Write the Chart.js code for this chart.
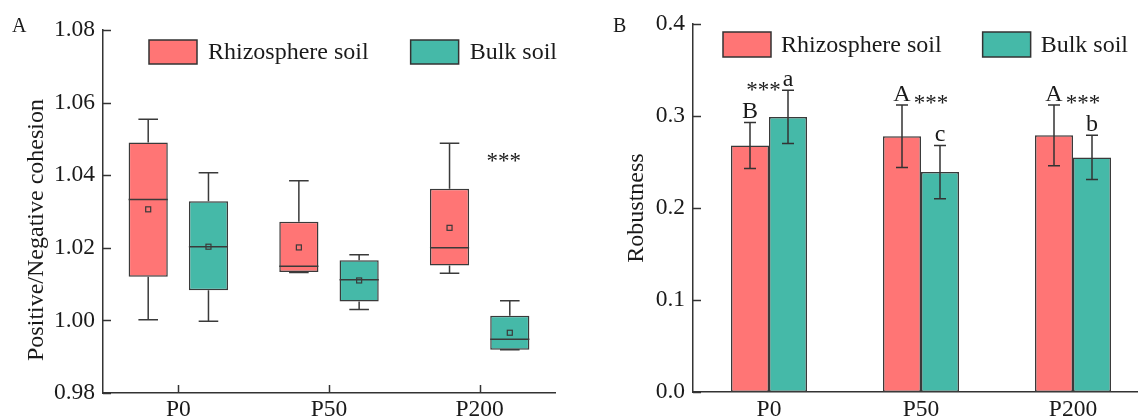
<!DOCTYPE html>
<html><head><meta charset="utf-8">
<script src="https://cdn.jsdelivr.net/npm/chart.js@4.4.1/dist/chart.umd.min.js"></script>
<style>
html,body{margin:0;padding:0;background:#fff;overflow:hidden;width:1138px;height:419px;}
#wa{position:absolute;left:0;top:0;width:570px;height:419px;}
#wb{position:absolute;left:570px;top:0;width:600px;height:419px;}
</style></head><body>
<div id="wa"><canvas id="ca"></canvas></div>
<div id="wb"><canvas id="cb"></canvas></div>
<script>
// ---------- data ----------
const categories = ['P0', 'P50', 'P200'];
const seriesNames = ['Rhizosphere soil', 'Bulk soil'];
// Panel A: box plot statistics (Positive/Negative cohesion)
const rhizoMin    = [1.0002, 1.0132, 1.0130];
const rhizoQ1     = [1.0120, 1.0133, 1.0151];
const rhizoMedian = [1.0333, 1.0149, 1.0200];
const rhizoQ3     = [1.0490, 1.0272, 1.0363];
const rhizoMax    = [1.0554, 1.0385, 1.0488];
const rhizoMean   = [1.0306, 1.0201, 1.0255];
const bulkMin     = [0.9998, 1.0030, 0.9919];
const bulkQ1      = [1.0083, 1.0052, 0.9919];
const bulkMedian  = [1.0203, 1.0112, 0.9948];
const bulkQ3      = [1.0328, 1.0166, 1.0013];
const bulkMax     = [1.0407, 1.0181, 1.0054];
const bulkMean    = [1.0203, 1.0110, 0.9966];
const cohesionTicks = [0.98, 1.00, 1.02, 1.04, 1.06, 1.08];
const panelASig = '***';
const panelATitle = 'Positive/Negative cohesion';
// Panel B: robustness (mean ± error)
const rhizoRobust    = [0.268, 0.278, 0.279];
const rhizoRobustErr = [0.025, 0.034, 0.033];
const bulkRobust     = [0.299, 0.239, 0.255];
const bulkRobustErr  = [0.029, 0.029, 0.024];
const robustTicks = [0.0, 0.1, 0.2, 0.3, 0.4];
const rhizoLetters = ['B', 'A', 'A'];
const bulkLetters  = ['a', 'c', 'b'];
const sigMarks     = ['***', '***', '***'];
const sigSide      = ['bulk', 'rhizo', 'rhizo'];

// ---------- styles ----------
const RED = '#FF7575', TEAL = '#45B9A8', DARK = '#333333', INK = '#1a1a1a';
const SERIF = "'Liberation Serif', 'Times New Roman', serif";
Chart.defaults.font.family = SERIF;
Chart.defaults.color = INK;

function inwardTicks(chart, xTicks) {
  const ctx = chart.ctx, ca = chart.chartArea, ys = chart.scales.y, xs = chart.scales.x;
  ctx.save();
  ctx.strokeStyle = DARK; ctx.lineWidth = 1.5;
  ys.ticks.forEach(t => {
    const y = Math.round(ys.getPixelForValue(t.value)) + 0.5;
    ctx.beginPath(); ctx.moveTo(ca.left, y); ctx.lineTo(ca.left + 8, y); ctx.stroke();
  });
  if (xTicks) {
    categories.forEach((c, i) => {
      const x = Math.round(xs.getPixelForValue(i)) + 0.5;
      ctx.beginPath(); ctx.moveTo(x, ca.bottom); ctx.lineTo(x, ca.bottom - 8); ctx.stroke();
    });
  }
  ctx.restore();
}

function drawLegend(chart, x0, y0, boxW, boxH, gap, itemGap) {
  const ctx = chart.ctx;
  ctx.save();
  ctx.font = '24px ' + SERIF;
  let x = x0;
  chart.data.datasets.forEach(ds => {
    ctx.fillStyle = ds.backgroundColor;
    ctx.fillRect(x, y0, boxW, boxH);
    ctx.strokeStyle = DARK; ctx.lineWidth = 1.5;
    ctx.strokeRect(x, y0, boxW, boxH);
    ctx.fillStyle = INK; ctx.textBaseline = 'middle'; ctx.textAlign = 'left';
    ctx.fillText(ds.label, x + boxW + gap, y0 + boxH / 2 + 1);
    x += boxW + gap + ctx.measureText(ds.label).width + itemGap;
  });
  ctx.restore();
}

function panelLetter(chart, txt, x, y) {
  const ctx = chart.ctx;
  ctx.save();
  ctx.font = '20px ' + SERIF; ctx.fillStyle = INK;
  ctx.textAlign = 'left'; ctx.textBaseline = 'alphabetic';
  ctx.fillText(txt, x, y);
  ctx.restore();
}

function verticalTitle(chart, txt, cx, cy) {
  const ctx = chart.ctx;
  ctx.save();
  ctx.translate(cx, cy);
  ctx.rotate(-Math.PI / 2);
  ctx.font = '24px ' + SERIF; ctx.fillStyle = INK;
  ctx.textAlign = 'center'; ctx.textBaseline = 'middle';
  ctx.fillText(txt, 0, 0);
  ctx.restore();
}

// ---------- Panel A ----------
const boxStats = [
  {min: rhizoMin, q1: rhizoQ1, med: rhizoMedian, q3: rhizoQ3, max: rhizoMax, mean: rhizoMean},
  {min: bulkMin, q1: bulkQ1, med: bulkMedian, q3: bulkQ3, max: bulkMax, mean: bulkMean}
];

const boxPlugin = {
  id: 'boxExtras',
  afterDatasetsDraw(chart) {
    const ctx = chart.ctx, ys = chart.scales.y;
    ctx.save();
    boxStats.forEach((st, di) => {
      const meta = chart.getDatasetMeta(di);
      meta.data.forEach((el, i) => {
        const x = el.x, w = el.width, half = w / 2;
        const yq1 = ys.getPixelForValue(st.q1[i]), yq3 = ys.getPixelForValue(st.q3[i]);
        const ymin = ys.getPixelForValue(st.min[i]), ymax = ys.getPixelForValue(st.max[i]);
        const ymed = ys.getPixelForValue(st.med[i]), ymean = ys.getPixelForValue(st.mean[i]);
        ctx.strokeStyle = '#3a3a3a'; ctx.lineWidth = 1.5;
        ctx.beginPath();
        ctx.moveTo(x, yq3); ctx.lineTo(x, ymax);
        ctx.moveTo(x - w / 4, ymax); ctx.lineTo(x + w / 4, ymax);
        ctx.moveTo(x, yq1); ctx.lineTo(x, ymin);
        ctx.moveTo(x - w / 4, ymin); ctx.lineTo(x + w / 4, ymin);
        ctx.stroke();
        ctx.beginPath();
        ctx.moveTo(x - half, ymed); ctx.lineTo(x + half, ymed);
        ctx.stroke();
        ctx.lineWidth = 1.2;
        ctx.strokeRect(x - 2.5, ymean - 2.5, 5, 5);
      });
    });
    const el = chart.getDatasetMeta(1).data[2];
    const yTop = ys.getPixelForValue(rhizoMax[2]);
    ctx.font = '23px ' + SERIF; ctx.fillStyle = INK;
    ctx.textAlign = 'center'; ctx.textBaseline = 'alphabetic';
    ctx.fillText(panelASig, el.x - 6, yTop + 25);
    ctx.restore();
  },
  afterDraw(chart) {
    inwardTicks(chart, true);
    drawLegend(chart, 149, 40, 48, 24, 11, 42);
    panelLetter(chart, 'A', 12, 32);
    verticalTitle(chart, panelATitle, 37, 230);
  }
};

new Chart(document.getElementById('ca'), {
  type: 'bar',
  data: {
    labels: categories,
    datasets: [
      {label: seriesNames[0], data: rhizoQ1.map((v, i) => [v, rhizoQ3[i]]),
       backgroundColor: RED, borderColor: '#3a3a3a', borderWidth: 1.5, borderSkipped: false,
       categoryPercentage: 0.8, barPercentage: 0.65},
      {label: seriesNames[1], data: bulkQ1.map((v, i) => [v, bulkQ3[i]]),
       backgroundColor: TEAL, borderColor: '#3a3a3a', borderWidth: 1.5, borderSkipped: false,
       categoryPercentage: 0.8, barPercentage: 0.65}
    ]
  },
  options: {
    responsive: true, maintainAspectRatio: false, animation: false,
    layout: {padding: {top: 30, right: 15, left: 0, bottom: 0}},
    plugins: {legend: {display: false}, tooltip: {enabled: false}},
    scales: {
      x: {
        grid: {display: false, drawTicks: false},
        border: {display: true, color: DARK, width: 1.5},
        ticks: {font: {size: 23.5}, color: INK, padding: 3, maxRotation: 0},
        afterFit: s => { s.height = 26; }
      },
      y: {
        min: 0.98, max: 1.08,
        grid: {display: false, drawTicks: false},
        border: {display: true, color: DARK, width: 1.5},
        ticks: {font: {size: 23.5}, color: INK, padding: 8, callback: v => Number(v).toFixed(2)},
        afterBuildTicks: s => { s.ticks = cohesionTicks.map(v => ({value: v})); },
        title: {display: false, text: panelATitle},
        afterFit: s => { s.width = 103; }
      }
    }
  },
  plugins: [boxPlugin]
});

// ---------- Panel B ----------
const errPlugin = {
  id: 'errExtras',
  afterDatasetsDraw(chart) {
    const ctx = chart.ctx, ys = chart.scales.y;
    const vals = [rhizoRobust, bulkRobust], errs = [rhizoRobustErr, bulkRobustErr];
    ctx.save();
    ctx.strokeStyle = '#333'; ctx.lineWidth = 1.5;
    const tops = [[], []];
    [0, 1].forEach(di => {
      chart.getDatasetMeta(di).data.forEach((el, i) => {
        const yT = ys.getPixelForValue(vals[di][i] + errs[di][i]);
        const yB = ys.getPixelForValue(vals[di][i] - errs[di][i]);
        tops[di][i] = yT;
        ctx.beginPath();
        ctx.moveTo(el.x, yT); ctx.lineTo(el.x, yB);
        ctx.moveTo(el.x - 6, yT); ctx.lineTo(el.x + 6, yT);
        ctx.moveTo(el.x - 6, yB); ctx.lineTo(el.x + 6, yB);
        ctx.stroke();
      });
    });
    const rMeta = chart.getDatasetMeta(0).data, bMeta = chart.getDatasetMeta(1).data;
    ctx.fillStyle = INK; ctx.textBaseline = 'alphabetic';
    categories.forEach((c, i) => {
      ctx.font = '24px ' + SERIF; ctx.textAlign = 'center';
      const rBase = tops[0][i] - 4, bBase = tops[1][i] - 4;
      ctx.fillText(rhizoLetters[i], rMeta[i].x, rBase);
      ctx.fillText(bulkLetters[i], bMeta[i].x, bBase);
      const rw = ctx.measureText(rhizoLetters[i]).width, bw = ctx.measureText(bulkLetters[i]).width;
      ctx.font = '23px ' + SERIF;
      if (sigSide[i] === 'bulk') {
        ctx.textAlign = 'right';
        ctx.fillText(sigMarks[i], bMeta[i].x - bw / 2 - 2, bBase + 11);
      } else {
        ctx.textAlign = 'left';
        ctx.fillText(sigMarks[i], rMeta[i].x + rw / 2 + 3, rBase + 9);
      }
    });
    ctx.restore();
  },
  afterDraw(chart) {
    inwardTicks(chart, false);
    drawLegend(chart, 153, 32, 48, 25, 10, 41);
    panelLetter(chart, 'B', 43, 32);
  }
};

new Chart(document.getElementById('cb'), {
  type: 'bar',
  data: {
    labels: categories,
    datasets: [
      {label: seriesNames[0], data: rhizoRobust, backgroundColor: RED, borderColor: '#3a3a3a',
       borderWidth: 1.5, borderSkipped: false, categoryPercentage: 0.5, barPercentage: 1.0},
      {label: seriesNames[1], data: bulkRobust, backgroundColor: TEAL, borderColor: '#3a3a3a',
       borderWidth: 1.5, borderSkipped: false, categoryPercentage: 0.5, barPercentage: 1.0}
    ]
  },
  options: {
    responsive: true, maintainAspectRatio: false, animation: false,
    layout: {padding: {top: 24, right: 21, left: 0, bottom: 0}},
    plugins: {legend: {display: false}, tooltip: {enabled: false}},
    scales: {
      x: {
        grid: {display: false, drawTicks: false},
        border: {display: true, color: DARK, width: 1.5},
        ticks: {font: {size: 23.5}, color: INK, padding: 4, maxRotation: 0},
        afterFit: s => { s.height = 27; }
      },
      y: {
        min: 0, max: 0.4,
        grid: {display: false, drawTicks: false},
        border: {display: true, color: DARK, width: 1.5},
        ticks: {font: {size: 23.5}, color: INK, padding: 8, callback: v => Number(v).toFixed(1)},
        afterBuildTicks: s => { s.ticks = robustTicks.map(v => ({value: v})); },
        title: {display: true, text: 'Robustness', font: {size: 24}, color: INK, padding: {top: 52, bottom: 0}},
        afterFit: s => { s.width = 123; }
      }
    }
  },
  plugins: [errPlugin]
});
</script>
</body></html>
